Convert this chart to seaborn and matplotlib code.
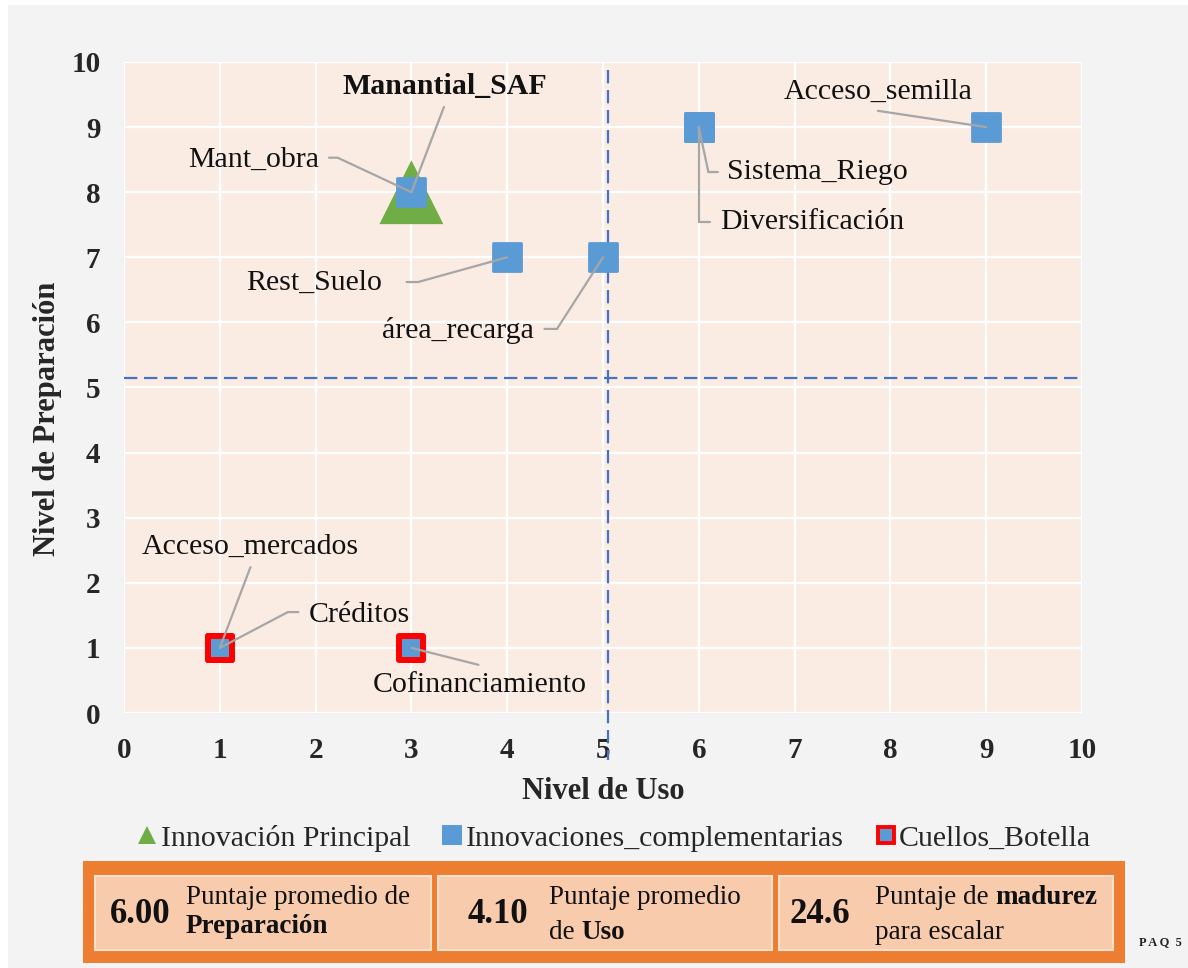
import matplotlib
matplotlib.use("Agg")
import matplotlib.pyplot as plt
from matplotlib.patches import Rectangle
from matplotlib.lines import Line2D
import seaborn as sns
import pandas as pd

# ---------------- data ----------------
names = ["Manantial_SAF", "Mant_obra", "Rest_Suelo", "área_recarga", "Sistema_Riego",
         "Diversificación", "Acceso_semilla", "Acceso_mercados", "Créditos", "Cofinanciamiento"]
nivel_uso = [3, 3, 4, 5, 6, 6, 9, 1, 1, 3]
nivel_prep = [8, 8, 7, 7, 9, 9, 9, 1, 1, 1]
grupo = ["Innovación Principal"] + ["Innovaciones_complementarias"] * 6 + ["Cuellos_Botella"] * 3
series = ["Innovación Principal", "Innovaciones_complementarias", "Cuellos_Botella"]
umbral_uso = 5.05
umbral_prep = 5.15
ticks = list(range(0, 11))
resumen_valores = ["6.00", "4.10", "24.6"]
resumen_l1 = [("Puntaje promedio de", ""), ("Puntaje promedio", ""), ("Puntaje de ", "madurez")]
resumen_l2 = [("", "Preparación"), ("de ", "Uso"), ("para escalar", "")]

df = pd.DataFrame({"name": names, "uso": nivel_uso, "prep": nivel_prep, "grupo": grupo})

# ---------------- style ----------------
sns.set_style("white")
plt.rcParams["font.family"] = ["Liberation Serif", "DejaVu Serif"]

W, H = 1188, 968
fig = plt.figure(figsize=(W / 100, H / 100), dpi=100, facecolor="white")

def fx(px):
    return px / W

def fy(py):
    return 1 - py / H

# overlay axes in pixel coordinates for decoration
ov = fig.add_axes([0, 0, 1, 1])
ov.set_xlim(0, W)
ov.set_ylim(H, 0)
ov.axis("off")
ov.set_zorder(0)
ov.add_patch(Rectangle((8, 5), W - 8, H - 5, facecolor="#F3F3F3", edgecolor="none", zorder=0))

L, R, T, B = 124, 1082, 62, 713
ax = fig.add_axes([fx(L), fy(B), fx(R) - fx(L), fy(T) - fy(B)])
ax.set_zorder(2)
ax.set_facecolor("#FBECE3")

GREEN = "#70AD47"
BLUE = "#5B9BD5"
RED = "#FF0000"
DASH = "#4472C4"
LEADER = "#A6A6A6"

# markers
d0 = df[df.grupo == series[0]]
d1 = df[df.grupo == series[1]]
d2 = df[df.grupo == series[2]]
sns.scatterplot(data=d0, x="uso", y="prep", marker="^", s=46 ** 2, color=GREEN,
                edgecolor="none", ax=ax, zorder=3, legend=False)
sns.scatterplot(data=d1, x="uso", y="prep", marker="s", s=19.5 ** 2, color=BLUE,
                edgecolor=BLUE, linewidth=2, ax=ax, zorder=4, legend=False)
sns.scatterplot(data=d2, x="uso", y="prep", marker="s", s=17.3 ** 2, color=BLUE,
                edgecolor=RED, linewidth=4.3, ax=ax, zorder=4, legend=False)

# quadrant lines
ax.axhline(umbral_prep, color=DASH, lw=1.6, ls=(0, (6, 3)), zorder=2)
ax.plot([umbral_uso, umbral_uso], [9.88, -0.72], color=DASH, lw=1.6, ls=(0, (6, 3)),
        zorder=2, clip_on=False)

ax.set_xlim(0, 10)
ax.set_ylim(0, 10)
ax.set_xticks(ticks)
ax.set_yticks(ticks)
ax.grid(True, color="white", lw=1.6, zorder=0)
ax.set_axisbelow(True)
for s in ax.spines.values():
    s.set_visible(False)
ax.tick_params(length=0, labelsize=21, pad=17)
for lab in ax.get_xticklabels() + ax.get_yticklabels():
    lab.set_fontweight("bold")

ax.set_xlabel("Nivel de Uso", fontsize=22, fontweight="bold", va="center")
ax.xaxis.set_label_coords(0.5, -0.121)
ax.set_ylabel("Nivel de Preparación", fontsize=22, fontweight="bold", va="center")
ax.yaxis.set_label_coords(-0.080, 0.452)

# data labels with leader lines (layout only)
label_layout = {
    "Manantial_SAF":    dict(pos=(3.35, 9.62), path=[(3.34, 9.31)], bold=True),
    "Mant_obra":        dict(pos=(1.35, 8.49), path=[(2.14, 8.53), (2.23, 8.53)]),
    "Rest_Suelo":       dict(pos=(1.98, 6.60), path=[(2.95, 6.62), (3.07, 6.62)]),
    "área_recarga":     dict(pos=(3.49, 5.88), path=[(4.39, 5.90), (4.52, 5.90)]),
    "Sistema_Riego":    dict(pos=(7.24, 8.31), path=[(6.20, 8.31), (6.10, 8.31)]),
    "Diversificación":  dict(pos=(7.18, 7.54), path=[(6.12, 7.54), (6.00, 7.54)]),
    "Acceso_semilla":   dict(pos=(7.87, 9.54), path=[(7.87, 9.25)]),
    "Acceso_mercados":  dict(pos=(1.32, 2.55), path=[(1.32, 2.24)]),
    "Créditos":         dict(pos=(2.46, 1.51), path=[(1.82, 1.55), (1.71, 1.55)]),
    "Cofinanciamiento": dict(pos=(3.71, 0.43), path=[(3.70, 0.74)]),
}
for _, row in df.iterrows():
    lay = label_layout[row["name"]]
    ax.text(*lay["pos"], row["name"], ha="center", va="center", fontsize=21.5,
            fontweight="bold" if lay.get("bold") else "normal", color="#111111", zorder=6)
    pts = lay["path"] + [(row["uso"], row["prep"])]
    ax.plot([p[0] for p in pts], [p[1] for p in pts], color=LEADER, lw=1.6, zorder=5,
            solid_joinstyle="miter")

# legend
handles = [
    Line2D([], [], marker="^", ls="none", color=GREEN, markersize=13, markeredgewidth=0),
    Line2D([], [], marker="s", ls="none", color=BLUE, markersize=14, markeredgewidth=0),
    Line2D([], [], marker="s", ls="none", markerfacecolor=BLUE, markeredgecolor=RED,
           markersize=11, markeredgewidth=2.8),
]
fig.legend(handles, series, loc="center", bbox_to_anchor=(fx(614), fy(838)), ncol=3,
           frameon=False, fontsize=21.5, handlelength=0.7, handletextpad=0.1,
           columnspacing=1.05, borderaxespad=0)

# summary panel
ORANGE = "#ED7D31"
LIGHT = "#F8CBAD"
ov.add_patch(Rectangle((83, 861), 1125 - 83, 963 - 861, facecolor=ORANGE, edgecolor="none", zorder=1))
boxes = [(95, 431), (438, 772), (779, 1113)]
num_x = [140, 498, 820]
txt_x = [186, 549, 875]
for i, (x0, x1) in enumerate(boxes):
    ov.add_patch(Rectangle((x0, 876), x1 - x0, 950 - 876, facecolor=LIGHT,
                           edgecolor="#FBE0CC", lw=1.5, zorder=2))
    ov.text(num_x[i], 923, resumen_valores[i], ha="center", va="baseline", fontsize=25,
            fontweight="bold", color="#111111", zorder=3)
    for (reg, bold), base in ((resumen_l1[i], 904), (resumen_l2[i], 939)):
        t = ov.text(txt_x[i], base, reg if reg else "", ha="left", va="baseline",
                    fontsize=19.5, color="#111111", zorder=3)
        if bold:
            ov.annotate(bold, xy=(1, 0), xycoords=t, ha="left", va="bottom",
                        fontsize=19.5, fontweight="bold", color="#111111", zorder=3)

ov.text(1160, 942, "P A Q  5", ha="center", va="center", fontsize=9, fontweight="bold",
        color="#222222", zorder=3)

fig.savefig("out.png", dpi=100, facecolor=fig.get_facecolor())
